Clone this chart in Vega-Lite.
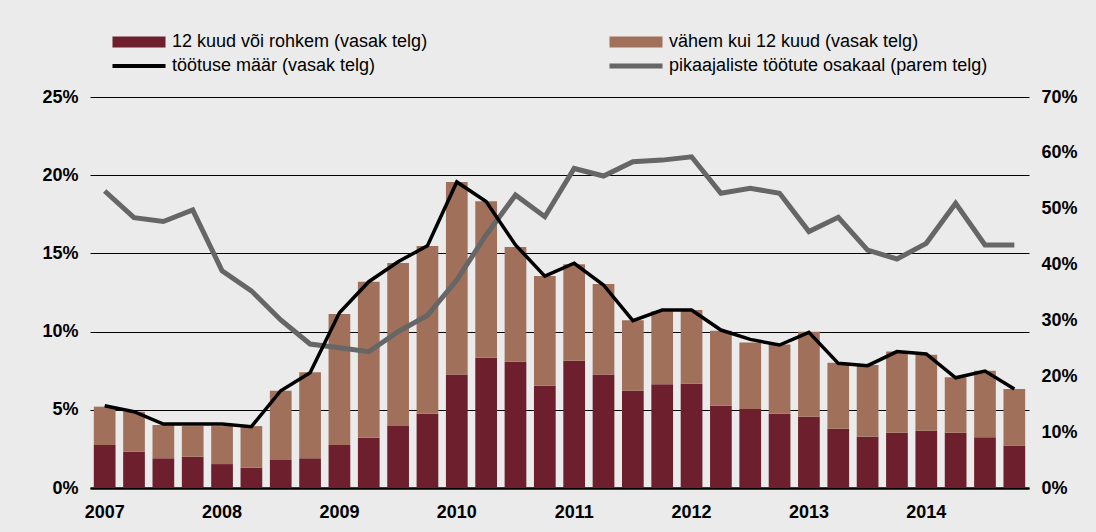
{
  "$schema": "https://vega.github.io/schema/vega-lite/v6.json",
  "width": 939,
  "height": 391,
  "autosize": {"type": "none"},
  "padding": {"left": 90, "top": 97, "right": 67, "bottom": 44},
  "background": "#ebebeb",
  "config": {
    "view": {"stroke": null},
    "font": "Liberation Sans",
    "axis": {"labelFont": "Liberation Sans", "labelFontWeight": "bold", "labelFontSize": 18, "labelColor": "#000000", "ticks": false, "domain": false, "title": null}
  },
  "datasets": {
    "bars": [
      {"q": "2007Q1", "series": "12 kuud või rohkem (vasak telg)", "value": 2.75},
      {"q": "2007Q2", "series": "12 kuud või rohkem (vasak telg)", "value": 2.32},
      {"q": "2007Q3", "series": "12 kuud või rohkem (vasak telg)", "value": 1.9},
      {"q": "2007Q4", "series": "12 kuud või rohkem (vasak telg)", "value": 2.0},
      {"q": "2008Q1", "series": "12 kuud või rohkem (vasak telg)", "value": 1.53},
      {"q": "2008Q2", "series": "12 kuud või rohkem (vasak telg)", "value": 1.3},
      {"q": "2008Q3", "series": "12 kuud või rohkem (vasak telg)", "value": 1.79},
      {"q": "2008Q4", "series": "12 kuud või rohkem (vasak telg)", "value": 1.9},
      {"q": "2009Q1", "series": "12 kuud või rohkem (vasak telg)", "value": 2.75},
      {"q": "2009Q2", "series": "12 kuud või rohkem (vasak telg)", "value": 3.22},
      {"q": "2009Q3", "series": "12 kuud või rohkem (vasak telg)", "value": 3.96},
      {"q": "2009Q4", "series": "12 kuud või rohkem (vasak telg)", "value": 4.75},
      {"q": "2010Q1", "series": "12 kuud või rohkem (vasak telg)", "value": 7.25},
      {"q": "2010Q2", "series": "12 kuud või rohkem (vasak telg)", "value": 8.33},
      {"q": "2010Q3", "series": "12 kuud või rohkem (vasak telg)", "value": 8.08},
      {"q": "2010Q4", "series": "12 kuud või rohkem (vasak telg)", "value": 6.54},
      {"q": "2011Q1", "series": "12 kuud või rohkem (vasak telg)", "value": 8.14},
      {"q": "2011Q2", "series": "12 kuud või rohkem (vasak telg)", "value": 7.25},
      {"q": "2011Q3", "series": "12 kuud või rohkem (vasak telg)", "value": 6.22},
      {"q": "2011Q4", "series": "12 kuud või rohkem (vasak telg)", "value": 6.63},
      {"q": "2012Q1", "series": "12 kuud või rohkem (vasak telg)", "value": 6.67},
      {"q": "2012Q2", "series": "12 kuud või rohkem (vasak telg)", "value": 5.26},
      {"q": "2012Q3", "series": "12 kuud või rohkem (vasak telg)", "value": 5.05},
      {"q": "2012Q4", "series": "12 kuud või rohkem (vasak telg)", "value": 4.75},
      {"q": "2013Q1", "series": "12 kuud või rohkem (vasak telg)", "value": 4.56},
      {"q": "2013Q2", "series": "12 kuud või rohkem (vasak telg)", "value": 3.79},
      {"q": "2013Q3", "series": "12 kuud või rohkem (vasak telg)", "value": 3.28},
      {"q": "2013Q4", "series": "12 kuud või rohkem (vasak telg)", "value": 3.54},
      {"q": "2014Q1", "series": "12 kuud või rohkem (vasak telg)", "value": 3.66},
      {"q": "2014Q2", "series": "12 kuud või rohkem (vasak telg)", "value": 3.54},
      {"q": "2014Q3", "series": "12 kuud või rohkem (vasak telg)", "value": 3.24},
      {"q": "2014Q4", "series": "12 kuud või rohkem (vasak telg)", "value": 2.71},
      {"q": "2007Q1", "series": "vähem kui 12 kuud (vasak telg)", "value": 2.45},
      {"q": "2007Q2", "series": "vähem kui 12 kuud (vasak telg)", "value": 2.56},
      {"q": "2007Q3", "series": "vähem kui 12 kuud (vasak telg)", "value": 2.13},
      {"q": "2007Q4", "series": "vähem kui 12 kuud (vasak telg)", "value": 1.96},
      {"q": "2008Q1", "series": "vähem kui 12 kuud (vasak telg)", "value": 2.43},
      {"q": "2008Q2", "series": "vähem kui 12 kuud (vasak telg)", "value": 2.66},
      {"q": "2008Q3", "series": "vähem kui 12 kuud (vasak telg)", "value": 4.43},
      {"q": "2008Q4", "series": "vähem kui 12 kuud (vasak telg)", "value": 5.5},
      {"q": "2009Q1", "series": "vähem kui 12 kuud (vasak telg)", "value": 8.38},
      {"q": "2009Q2", "series": "vähem kui 12 kuud (vasak telg)", "value": 9.97},
      {"q": "2009Q3", "series": "vähem kui 12 kuud (vasak telg)", "value": 10.43},
      {"q": "2009Q4", "series": "vähem kui 12 kuud (vasak telg)", "value": 10.72},
      {"q": "2010Q1", "series": "vähem kui 12 kuud (vasak telg)", "value": 12.32},
      {"q": "2010Q2", "series": "vähem kui 12 kuud (vasak telg)", "value": 10.0},
      {"q": "2010Q3", "series": "vähem kui 12 kuud (vasak telg)", "value": 7.33},
      {"q": "2010Q4", "series": "vähem kui 12 kuud (vasak telg)", "value": 7.01},
      {"q": "2011Q1", "series": "vähem kui 12 kuud (vasak telg)", "value": 6.16},
      {"q": "2011Q2", "series": "vähem kui 12 kuud (vasak telg)", "value": 5.79},
      {"q": "2011Q3", "series": "vähem kui 12 kuud (vasak telg)", "value": 4.5},
      {"q": "2011Q4", "series": "vähem kui 12 kuud (vasak telg)", "value": 4.67},
      {"q": "2012Q1", "series": "vähem kui 12 kuud (vasak telg)", "value": 4.71},
      {"q": "2012Q2", "series": "vähem kui 12 kuud (vasak telg)", "value": 4.8},
      {"q": "2012Q3", "series": "vähem kui 12 kuud (vasak telg)", "value": 4.26},
      {"q": "2012Q4", "series": "vähem kui 12 kuud (vasak telg)", "value": 4.43},
      {"q": "2013Q1", "series": "vähem kui 12 kuud (vasak telg)", "value": 5.43},
      {"q": "2013Q2", "series": "vähem kui 12 kuud (vasak telg)", "value": 4.22},
      {"q": "2013Q3", "series": "vähem kui 12 kuud (vasak telg)", "value": 4.58},
      {"q": "2013Q4", "series": "vähem kui 12 kuud (vasak telg)", "value": 5.18},
      {"q": "2014Q1", "series": "vähem kui 12 kuud (vasak telg)", "value": 4.86},
      {"q": "2014Q2", "series": "vähem kui 12 kuud (vasak telg)", "value": 3.54},
      {"q": "2014Q3", "series": "vähem kui 12 kuud (vasak telg)", "value": 4.26},
      {"q": "2014Q4", "series": "vähem kui 12 kuud (vasak telg)", "value": 3.62}
    ],
    "lines": [
      {"q": "2007Q1", "rate": 5.26, "share": 53.17},
      {"q": "2007Q2", "rate": 4.88, "share": 48.4},
      {"q": "2007Q3", "rate": 4.09, "share": 47.7},
      {"q": "2007Q4", "rate": 4.09, "share": 49.77},
      {"q": "2008Q1", "rate": 4.09, "share": 38.9},
      {"q": "2008Q2", "rate": 3.92, "share": 35.3},
      {"q": "2008Q3", "rate": 6.22, "share": 30.08},
      {"q": "2008Q4", "rate": 7.37, "share": 25.78},
      {"q": "2009Q1", "rate": 11.21, "share": 25.1},
      {"q": "2009Q2", "rate": 13.19, "share": 24.4},
      {"q": "2009Q3", "rate": 14.47, "share": 27.98},
      {"q": "2009Q4", "rate": 15.49, "share": 30.9},
      {"q": "2010Q1", "rate": 19.57, "share": 37.24},
      {"q": "2010Q2", "rate": 18.31, "share": 45.3},
      {"q": "2010Q3", "rate": 15.54, "share": 52.45},
      {"q": "2010Q4", "rate": 13.55, "share": 48.57},
      {"q": "2011Q1", "rate": 14.37, "share": 57.2},
      {"q": "2011Q2", "rate": 12.98, "share": 55.85},
      {"q": "2011Q3", "rate": 10.7, "share": 58.42},
      {"q": "2011Q4", "rate": 11.38, "share": 58.7},
      {"q": "2012Q1", "rate": 11.38, "share": 59.3},
      {"q": "2012Q2", "rate": 10.1, "share": 52.76},
      {"q": "2012Q3", "rate": 9.5, "share": 53.65},
      {"q": "2012Q4", "rate": 9.14, "share": 52.76},
      {"q": "2013Q1", "rate": 9.95, "share": 45.9},
      {"q": "2013Q2", "rate": 7.97, "share": 48.45},
      {"q": "2013Q3", "rate": 7.82, "share": 42.6},
      {"q": "2013Q4", "rate": 8.72, "share": 41.0},
      {"q": "2014Q1", "rate": 8.57, "share": 43.8},
      {"q": "2014Q2", "rate": 7.05, "share": 50.96},
      {"q": "2014Q3", "rate": 7.48, "share": 43.5},
      {"q": "2014Q4", "rate": 6.33, "share": 43.5}
    ]
  },
  "layer": [
    {
      "data": {"name": "bars"},
      "transform": [
        {"calculate": "indexof(['12 kuud või rohkem (vasak telg)', 'vähem kui 12 kuud (vasak telg)'], datum.series)", "as": "stackorder"}
      ],
      "mark": {"type": "bar"},
      "encoding": {
        "x": {
          "field": "q", "type": "ordinal",
          "scale": {"paddingInner": 0.26, "paddingOuter": 0.13},
          "axis": {
            "labelAngle": 0,
            "labelExpr": "indexof(datum.value, 'Q1') > 0 ? slice(datum.value, 0, 4) : ''",
            "labelPadding": 15,
            "domain": true, "domainColor": "#000000", "domainWidth": 2.5,
            "labelFontSize": 18
          }
        },
        "y": {
          "aggregate": "sum", "field": "value", "type": "quantitative", "stack": "zero",
          "scale": {"domain": [0, 25], "nice": false},
          "axis": {
            "orient": "left", "values": [0, 5, 10, 15, 20, 25],
            "labelExpr": "datum.value + '%'",
            "grid": true, "gridColor": "#000000", "gridWidth": 1, "gridOpacity": 1,
            "labelPadding": 12
          }
        },
        "order": {"field": "stackorder", "type": "quantitative", "sort": "ascending"},
        "color": {
          "field": "series", "type": "nominal",
          "scale": {
            "domain": ["12 kuud või rohkem (vasak telg)", "vähem kui 12 kuud (vasak telg)", "töötuse määr (vasak telg)", "pikaajaliste töötute osakaal (parem telg)"],
            "range": ["#6e1f2d", "#a0705a", "#000000", "#666666"]
          },
          "legend": {
            "title": null,
            "orient": "none",
            "legendX": 19,
            "legendY": -64,
            "columns": 2,
            "direction": "horizontal",
            "columnPadding": 178,
            "rowPadding": 6,
            "padding": 0,
            "symbolSize": 121,
            "symbolOffset": 21,
            "labelOffset": 24,
            "labelFont": "Liberation Sans",
            "labelFontSize": 18,
            "labelColor": "#000000",
            "labelLimit": 500,
            "encode": {
              "symbols": {
                "update": {
                  "shape": {"signal": "datum.value == 'töötuse määr (vasak telg)' ? 'M-4.82,-0.36H4.82V0.36H-4.82Z' : (datum.value == 'pikaajaliste töötute osakaal (parem telg)' ? 'M-4.82,-0.45H4.82V0.45H-4.82Z' : 'M-4.82,-1H4.82V1H-4.82Z')"},
                  "fill": {"signal": "scale('color', datum.value)"},
                  "stroke": {"value": "transparent"},
                  "strokeWidth": {"value": 0},
                  "opacity": {"value": 1},
                  "fillOpacity": {"value": 1}
                }
              }
            }
          }
        }
      }
    },
    {
      "data": {"name": "lines"},
      "mark": {"type": "line", "strokeWidth": 5, "strokeJoin": "miter"},
      "encoding": {
        "x": {"field": "q", "type": "ordinal"},
        "y": {
          "field": "share", "type": "quantitative",
          "scale": {"domain": [0, 70], "nice": false},
          "axis": {
            "orient": "right", "values": [0, 10, 20, 30, 40, 50, 60, 70],
            "labelExpr": "datum.value + '%'",
            "grid": false, "labelPadding": 12
          }
        },
        "color": {"datum": "pikaajaliste töötute osakaal (parem telg)", "type": "nominal"}
      }
    },
    {
      "data": {"name": "lines"},
      "mark": {"type": "line", "strokeWidth": 3.5, "strokeJoin": "miter"},
      "encoding": {
        "x": {"field": "q", "type": "ordinal"},
        "y": {
          "field": "rate", "type": "quantitative",
          "scale": {"domain": [0, 25], "nice": false},
          "axis": null
        },
        "color": {"datum": "töötuse määr (vasak telg)", "type": "nominal"}
      }
    }
  ],
  "resolve": {"scale": {"y": "independent"}}
}
